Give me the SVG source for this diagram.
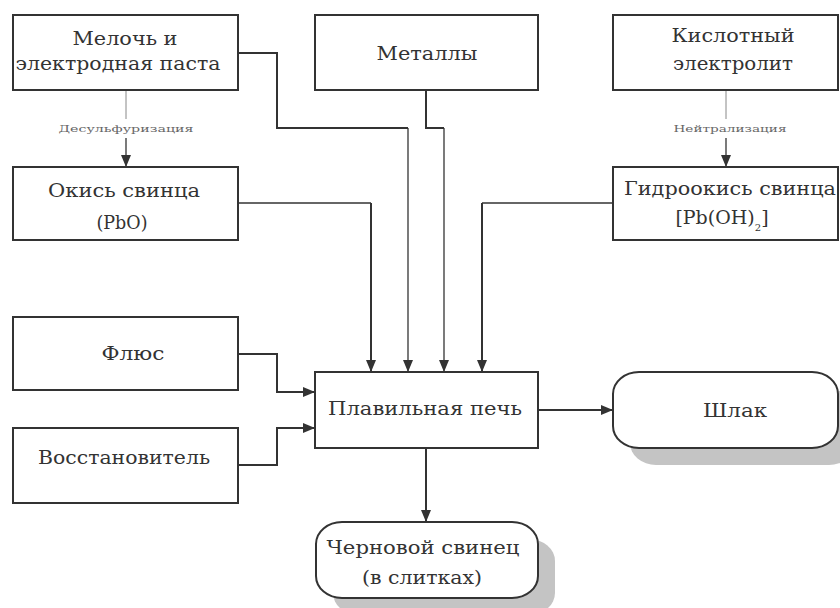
<svg xmlns="http://www.w3.org/2000/svg" width="840" height="608" viewBox="0 0 840 608">
<style>
.box{fill:#fff;stroke:#333;stroke-width:2}
.shadow{fill:#c4c4c4;stroke:none}
.t{font-family:"DejaVu Serif","Liberation Serif",serif;font-size:19px;fill:#333;text-anchor:middle}
.s{font-family:"DejaVu Serif","Liberation Serif",serif;font-size:10px;fill:#666;text-anchor:middle}
.c{fill:none;stroke:#333;stroke-width:1.3}
.ck{fill:none;stroke:#333;stroke-width:2}
.d{fill:none;stroke:#888;stroke-width:1}
</style>
<defs>
<marker id="ar" markerUnits="userSpaceOnUse" markerWidth="12" markerHeight="10" refX="12" refY="5" orient="auto">
<path d="M0,0 L12,5 L0,10 z" fill="#333"/>
</marker>
</defs>
<rect width="840" height="608" fill="#fff"/>
<g id="connectors">
<path class="ck" d="M238,53 H277 V128 H408"/>
<path class="c" d="M408,128 V372" marker-end="url(#ar)"/>
<path class="ck" d="M426,90 V128 H444"/>
<path class="c" d="M444,128 V372" marker-end="url(#ar)"/>
<path class="c" d="M238,203 H371"/>
<path class="ck" d="M371,203 V372" marker-end="url(#ar)"/>
<path class="c" d="M613,203 H482"/>
<path class="ck" d="M482,203 V372" marker-end="url(#ar)"/>
<path class="ck" d="M238,354 H277 V392 H315" marker-end="url(#ar)"/>
<path class="ck" d="M238,465 H277 V428 H315" marker-end="url(#ar)"/>
<path class="ck" d="M538,410 H613" marker-end="url(#ar)"/>
<path class="ck" d="M426,448 V522" marker-end="url(#ar)"/>
<path class="d" d="M126,90 V119"/>
<path class="c" d="M126,138 V167" marker-end="url(#ar)"/>
<text class="s" x="126" y="132" textLength="135" lengthAdjust="spacingAndGlyphs">Десульфуризация</text>
<path class="d" d="M726,90 V119"/>
<path class="c" d="M726,138 V167" marker-end="url(#ar)"/>
<text class="s" x="730" y="132" textLength="113" lengthAdjust="spacingAndGlyphs">Нейтрализация</text>
</g>
<g id="n1">
<rect class="box" x="13" y="15" width="225" height="75"/>
<text class="t" x="125" y="45" textLength="105" lengthAdjust="spacingAndGlyphs">Мелочь и</text>
<text class="t" x="118" y="70" textLength="205" lengthAdjust="spacingAndGlyphs">электродная паста</text>
</g>
<g id="n2">
<rect class="box" x="315" y="15" width="223" height="75"/>
<text class="t" x="427" y="60" textLength="101" lengthAdjust="spacingAndGlyphs">Металлы</text>
</g>
<g id="n3">
<rect class="box" x="613" y="15" width="225" height="75"/>
<text class="t" x="733" y="42" textLength="123" lengthAdjust="spacingAndGlyphs">Кислотный</text>
<text class="t" x="733" y="70" textLength="120" lengthAdjust="spacingAndGlyphs">электролит</text>
</g>
<g id="n4">
<rect class="box" x="13" y="167" width="225" height="73"/>
<text class="t" x="124" y="197" textLength="152" lengthAdjust="spacingAndGlyphs">Окись свинца</text>
<text class="t" x="122" y="229" textLength="51" lengthAdjust="spacingAndGlyphs">(PbO)</text>
</g>
<g id="n5">
<rect class="box" x="613" y="167" width="225" height="73"/>
<text class="t" x="730" y="195" textLength="212" lengthAdjust="spacingAndGlyphs">Гидроокись свинца</text>
<text class="t" x="722" y="224">[Pb(OH)<tspan font-size="10" dy="7">2</tspan><tspan dy="-7">]</tspan></text>
</g>
<g id="n6">
<rect class="box" x="13" y="317" width="225" height="73"/>
<text class="t" x="133" y="360" textLength="63" lengthAdjust="spacingAndGlyphs">Флюс</text>
</g>
<g id="n7">
<rect class="box" x="13" y="428" width="225" height="75"/>
<text class="t" x="124" y="464" textLength="172" lengthAdjust="spacingAndGlyphs">Восстановитель</text>
</g>
<g id="n8">
<rect class="box" x="315" y="372" width="223" height="76"/>
<text class="t" x="425" y="415" textLength="194" lengthAdjust="spacingAndGlyphs">Плавильная печь</text>
</g>
<g id="n9">
<rect class="shadow" x="630" y="389" width="225" height="76" rx="26" ry="22"/>
<rect class="box" x="613" y="372" width="225" height="76" rx="26" ry="22"/>
<text class="t" x="735" y="417" textLength="64" lengthAdjust="spacingAndGlyphs">Шлак</text>
</g>
<g id="n10">
<rect class="shadow" x="333" y="539" width="222" height="76" rx="26" ry="22"/>
<rect class="box" x="316" y="522" width="222" height="76" rx="26" ry="22"/>
<text class="t" x="423" y="554" textLength="193" lengthAdjust="spacingAndGlyphs">Черновой свинец</text>
<text class="t" x="422" y="584" textLength="120" lengthAdjust="spacingAndGlyphs">(в слитках)</text>
</g>
</svg>
